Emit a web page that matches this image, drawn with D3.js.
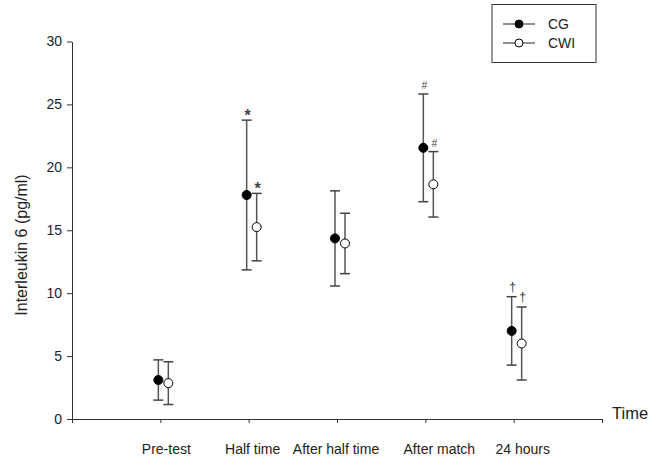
<!DOCTYPE html>
<html>
<head>
<meta charset="utf-8">
<script src="https://cdn.jsdelivr.net/npm/d3@7"></script>
<style>
  html, body { margin: 0; padding: 0; background: #fff; }
  svg { display: block; font-family: "Liberation Sans", Arial, sans-serif; }
</style>
</head>
<body>
<svg id="chart" width="649" height="459"></svg>
<script>
// Interleukin 6 over time, mean ± SD for the two groups
const categories = ["Pre-test", "Half time", "After half time", "After match", "24 hours"];
const cgMean  = [3.1, 17.8, 14.35, 21.55, 7.0];
const cgSD    = [1.6, 5.95, 3.78, 4.28, 2.72];
const cwiMean = [2.85, 15.25, 13.95, 18.65, 6.0];
const cwiSD   = [1.7, 2.68, 2.4, 2.6, 2.9];
const yTicks  = [0, 5, 10, 15, 20, 25, 30];
const seriesNames = ["CG", "CWI"];
// significance marks placed above the error bars
const sigMarks = [
  { cat: "Half time",   series: "CG",  sym: "*" },
  { cat: "Half time",   series: "CWI", sym: "*" },
  { cat: "After match", series: "CG",  sym: "#" },
  { cat: "After match", series: "CWI", sym: "#" },
  { cat: "24 hours",    series: "CG",  sym: "\u2020" },
  { cat: "24 hours",    series: "CWI", sym: "\u2020" }
];

const series = [
  { name: seriesNames[0], mean: cgMean,  sd: cgSD,  fill: "#000", dx: -2 },
  { name: seriesNames[1], mean: cwiMean, sd: cwiSD, fill: "#fff", dx: 8 }
];

const svg = d3.select("#chart");
const x = d3.scaleLinear().domain([0, 6]).range([72, 602]);
const y = d3.scaleLinear().domain([0, 30]).range([419, 41.5]);
const catX = c => x(categories.indexOf(c) + 1);

// y axis
const yAxis = svg.append("g")
  .attr("transform", `translate(${x(0)},0)`)
  .call(d3.axisLeft(y).tickValues(yTicks).tickSize(5).tickPadding(5).tickSizeOuter(0));
yAxis.select(".domain").attr("stroke", "#333");
yAxis.selectAll(".tick line").attr("stroke", "#333");
yAxis.selectAll(".tick text").attr("font-size", 14).attr("fill", "#222")
  .attr("font-family", "Liberation Sans, Arial, sans-serif");

// x axis: ticks at each time point plus the end of the axis
const xAxis = svg.append("g")
  .attr("transform", `translate(0,${y(0)})`)
  .call(d3.axisBottom(x).tickValues([0, 1, 2, 3, 4, 5, 6]).tickSize(4).tickFormat("").tickSizeOuter(0));
xAxis.select(".domain").attr("stroke", "#333");
xAxis.selectAll(".tick line").attr("stroke", "#333");

// category labels under the axis
const labelShift = [6, 4, -1, 14, 9];
svg.append("g").selectAll("text")
  .data(categories)
  .join("text")
  .attr("x", (d, i) => catX(d) + labelShift[i])
  .attr("y", 454)
  .attr("text-anchor", "middle")
  .attr("font-size", 14)
  .attr("fill", "#222")
  .text(d => d);

// axis titles
svg.append("text")
  .attr("x", 612).attr("y", 419)
  .attr("font-size", 16.5).attr("fill", "#222")
  .text("Time");
svg.append("text")
  .attr("transform", "translate(27,245) rotate(-90)")
  .attr("text-anchor", "middle")
  .attr("font-size", 16).attr("fill", "#222")
  .text("Interleukin 6 (pg/ml)");

// error bars and markers
const capHalf = 5;
series.forEach(s => {
  const g = svg.append("g");
  const rows = categories.map((c, i) => ({ c, m: s.mean[i], sd: s.sd[i] }));
  g.selectAll("line.bar").data(rows).join("line")
    .attr("x1", d => catX(d.c) + s.dx).attr("x2", d => catX(d.c) + s.dx)
    .attr("y1", d => y(d.m + d.sd)).attr("y2", d => y(d.m - d.sd))
    .attr("stroke", "#555").attr("stroke-width", 1.5);
  g.selectAll("line.top").data(rows).join("line")
    .attr("x1", d => catX(d.c) + s.dx - capHalf).attr("x2", d => catX(d.c) + s.dx + capHalf)
    .attr("y1", d => y(d.m + d.sd)).attr("y2", d => y(d.m + d.sd))
    .attr("stroke", "#444").attr("stroke-width", 1.5);
  g.selectAll("line.bot").data(rows).join("line")
    .attr("x1", d => catX(d.c) + s.dx - capHalf).attr("x2", d => catX(d.c) + s.dx + capHalf)
    .attr("y1", d => y(d.m - d.sd)).attr("y2", d => y(d.m - d.sd))
    .attr("stroke", "#444").attr("stroke-width", 1.5);
  g.selectAll("circle").data(rows).join("circle")
    .attr("cx", d => catX(d.c) + s.dx).attr("cy", d => y(d.m))
    .attr("r", 4.5)
    .attr("fill", s.fill).attr("stroke", "#000").attr("stroke-width", 1);
});

// significance symbols
svg.append("g").selectAll("text")
  .data(sigMarks)
  .join("text")
  .each(function (d) {
    const s = series.find(v => v.name === d.series);
    const i = categories.indexOf(d.cat);
    const top = y(s.mean[i] + s.sd[i]);
    const t = d3.select(this)
      .attr("x", catX(d.cat) + s.dx + 1)
      .attr("text-anchor", "middle")
      .attr("fill", "#444")
      .text(d.sym);
    if (d.sym === "*") {
      t.attr("y", top + 1).attr("font-size", 16).attr("font-weight", "bold");
    } else if (d.sym === "#") {
      t.attr("y", top - 5).attr("font-size", 10).attr("font-style", "italic");
    } else {
      t.attr("y", top - 6).attr("font-size", 13);
    }
  });

// legend
const lg = svg.append("g");
lg.append("rect")
  .attr("x", 492).attr("y", 4.5).attr("width", 104).attr("height", 58)
  .attr("fill", "#fff").attr("stroke", "#333").attr("stroke-width", 1);
series.forEach((s, i) => {
  const ly = 24 + i * 19;
  lg.append("line").attr("x1", 503).attr("x2", 535).attr("y1", ly).attr("y2", ly)
    .attr("stroke", "#222").attr("stroke-width", 1);
  lg.append("circle").attr("cx", 519).attr("cy", ly).attr("r", 4)
    .attr("fill", s.fill).attr("stroke", "#000").attr("stroke-width", 1);
  lg.append("text").attr("x", 548).attr("y", ly + 5)
    .attr("font-size", 14).attr("fill", "#222").text(s.name);
});
</script>
</body>
</html>
